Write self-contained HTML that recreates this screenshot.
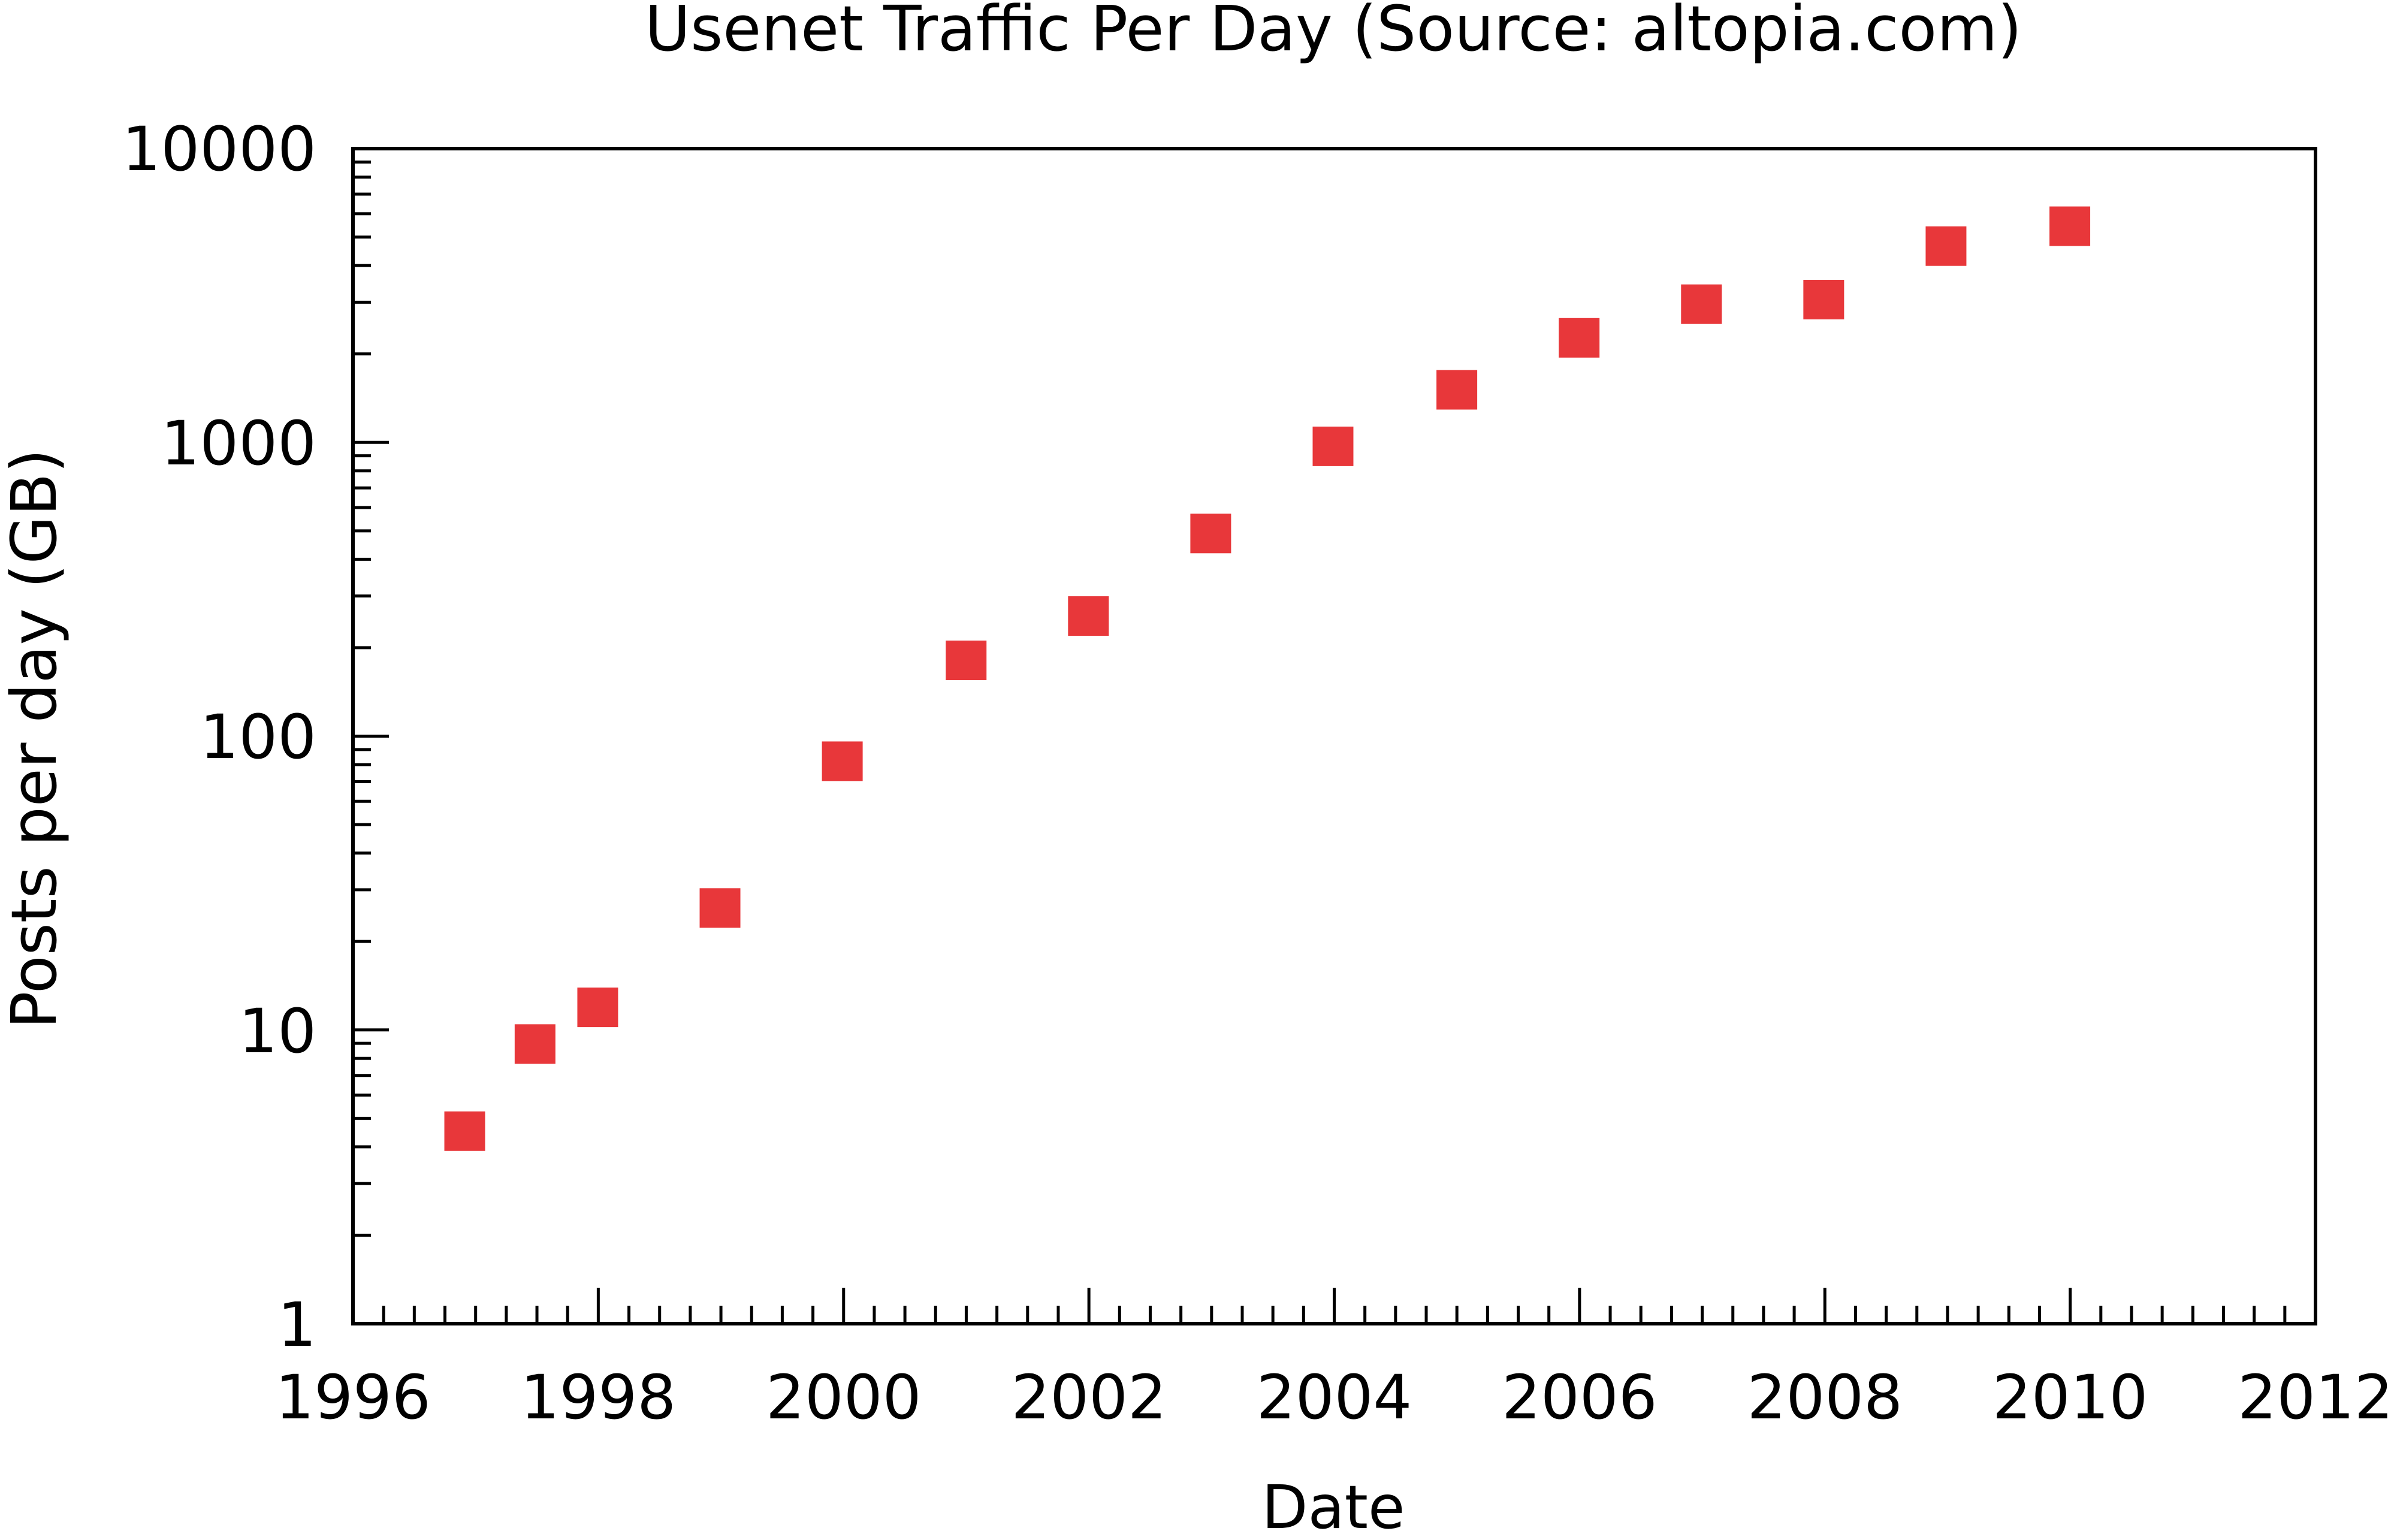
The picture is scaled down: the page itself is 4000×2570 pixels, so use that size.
<!DOCTYPE html>
<html><head><meta charset="utf-8"><style>
html,body{margin:0;padding:0;background:#fff;width:4000px;height:2570px;overflow:hidden}
svg text{font-family:"DejaVu Sans","Liberation Sans",sans-serif;fill:#000}
</style></head><body>
<svg id="s" width="4000" height="2570" viewBox="0 0 4000 2570" xmlns="http://www.w3.org/2000/svg">
<rect x="0" y="0" width="4000" height="2570" fill="#fff"/>
<text x="2225" y="84" font-size="104" text-anchor="middle">Usenet Traffic Per Day (Source: altopia.com)</text>
<g id="ticks" stroke="#000" stroke-width="5"></g>
<rect x="589" y="248" width="3275" height="1961" fill="none" stroke="#000" stroke-width="6"/>
<g font-size="102" text-anchor="end">
<text x="528" y="284">10000</text>
<text x="528" y="775">1000</text>
<text x="528" y="1265">100</text>
<text x="528" y="1756">10</text>
<text x="528" y="2246">1</text>
</g>
<g font-size="102" text-anchor="middle" id="xl"></g>
<text x="2225" y="2550" font-size="100" text-anchor="middle">Date</text>
<text transform="translate(93,1233) rotate(-90)" font-size="104" text-anchor="middle">Posts per day (GB)</text>
<g id="pts" fill="#e8373a"></g>
</svg>
<script>
var ns="http://www.w3.org/2000/svg";
var L=589,R=3864,T=248,B=2209,yr=(R-L)/16,dec=(B-T)/4;
var tg=document.getElementById('ticks');
function ln(x1,y1,x2,y2){var l=document.createElementNS(ns,'line');l.setAttribute('x1',x1);l.setAttribute('y1',y1);l.setAttribute('x2',x2);l.setAttribute('y2',y2);tg.appendChild(l);}
for(var i=1;i<64;i++){var x=L+i*yr/4;ln(x,B,x,B-(i%8==0?60:30));}
for(var d=0;d<4;d++){for(var m=1;m<10;m++){var y=B-d*dec-Math.log10(m)*dec;ln(L,y,L+(m==1?60:30),y);}}
var xl=document.getElementById('xl');
for(var k=0;k<=8;k++){var t=document.createElementNS(ns,'text');t.setAttribute('x',L+k*2*yr);t.setAttribute('y',2367);t.textContent=1996+2*k;xl.appendChild(t);}
var P=[[304,740],[350,683],[391,659],[471,594],[551,498],[632,432],[712,403],[792,349],[872,292],[953,255],[1033,221],[1113,199],[1193,196],[1273,161],[1354,148]];
var pg=document.getElementById('pts');
P.forEach(function(p){var r=document.createElementNS(ns,'rect');var cx=p[0]*2.551,cy=p[1]*2.551;r.setAttribute('x',cx-34);r.setAttribute('y',cy-33);r.setAttribute('width',68);r.setAttribute('height',66);pg.appendChild(r);});
</script>
</body></html>
